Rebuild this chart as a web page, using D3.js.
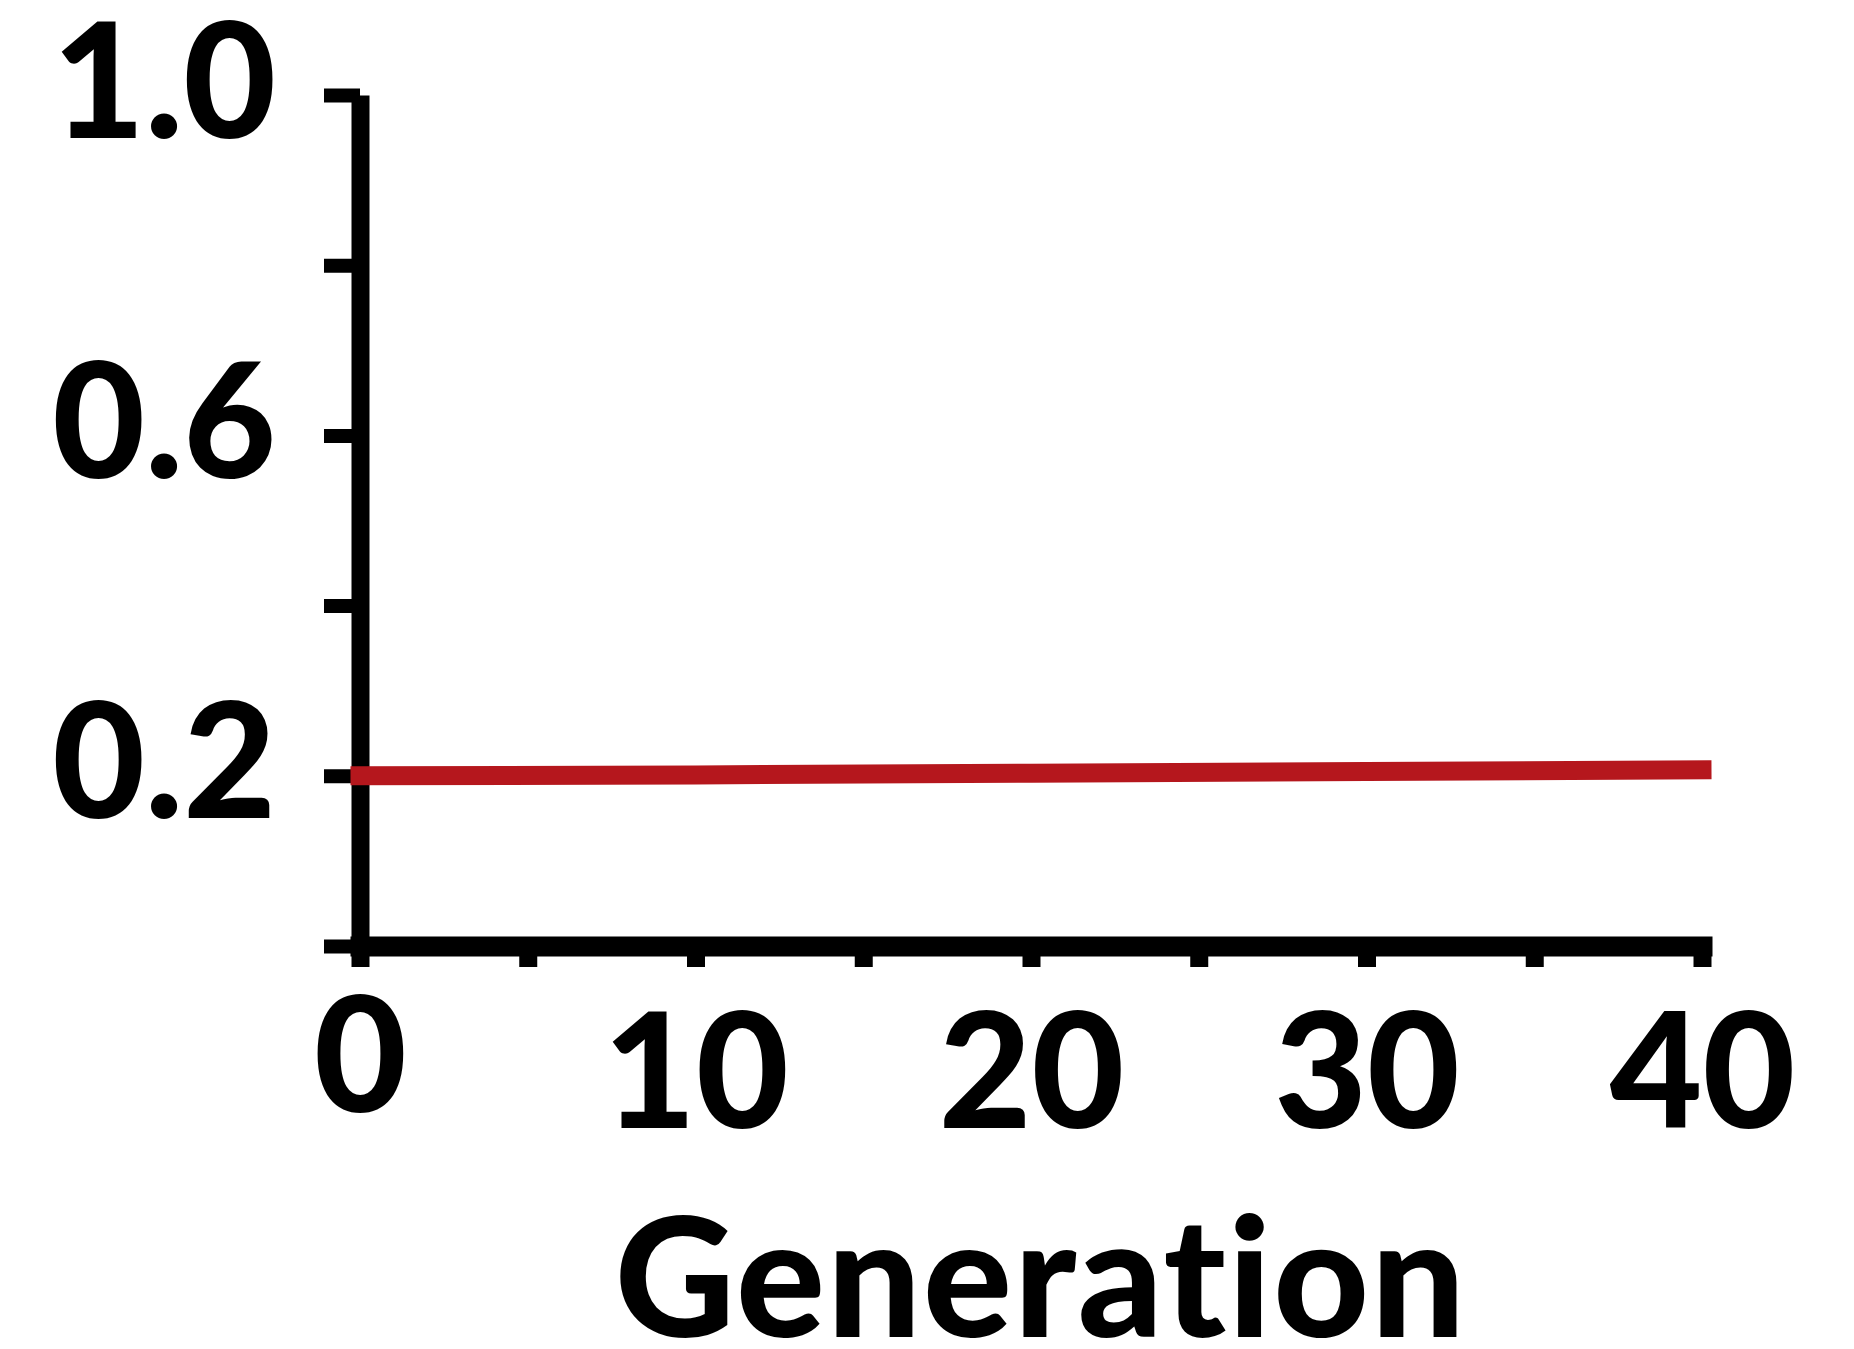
<!DOCTYPE html>
<html>
<head>
<meta charset="utf-8">
<script src="https://cdn.jsdelivr.net/npm/d3@7"></script>
<style>
  html, body { margin: 0; padding: 0; background: #ffffff; }
  svg { display: block; }
  text { font-family: "Lato", "Open Sans", "DejaVu Sans", sans-serif; font-weight: 900; fill: #000; }
</style>
</head>
<body>
<svg id="chart" width="1854" height="1349"></svg>
<script>
// ---- data ----
const generations = [0, 10, 20, 30, 40];
const frequency = [0.200, 0.201, 0.203, 0.205, 0.207];

const xTickValues = [0, 5, 10, 15, 20, 25, 30, 35, 40];
const xTickLabels = ["0", "", "10", "", "20", "", "30", "", "40"];
const yTickValues = [0, 0.2, 0.4, 0.6, 0.8, 1.0];
const yTickLabels = ["", "0.2", "", "0.6", "", "1.0"];
const xAxisTitle = "Generation";

// ---- layout ----
const svg = d3.select("#chart");

const x = d3.scaleLinear().domain([0, 40]).range([360, 1702]);
const y = d3.scaleLinear().domain([0, 1]).range([946, 95]);

// ---- y axis ----
const yAxis = d3.axisLeft(y)
  .tickValues(yTickValues)
  .tickSize(36)
  .tickSizeOuter(0)
  .tickFormat((d, i) => yTickLabels[i]);

const gy = svg.append("g").attr("transform", `translate(${x(0)},0)`).call(yAxis);
gy.attr("font-family", null).attr("font-size", null);
gy.select(".domain").attr("stroke", "#000").attr("stroke-width", 18).attr("stroke-linecap", "butt");
gy.selectAll(".tick line").attr("stroke", "#000").attr("stroke-width", 14);
gy.selectAll(".tick text")
  .attr("x", -84)
  .attr("dy", null)
  .attr("y", 42)
  .attr("text-anchor", "end")
  .style("font-size", "160px")
  .attr("fill", "#000");

// ---- x axis ----
const xAxis = d3.axisBottom(x)
  .tickValues(xTickValues)
  .tickSize(21)
  .tickSizeOuter(0)
  .tickFormat((d, i) => xTickLabels[i]);

const gx = svg.append("g").attr("transform", `translate(0,${y(0)})`).call(xAxis);
gx.attr("font-family", null).attr("font-size", null);
gx.select(".domain").attr("stroke", "#000").attr("stroke-width", 20).attr("stroke-linecap", "square");
gx.selectAll(".tick line").attr("stroke", "#000").attr("stroke-width", 18);
gx.selectAll(".tick text")
  .attr("y", 182)
  .attr("dy", null)
  .attr("text-anchor", "middle")
  .style("font-size", "160px")
  .attr("fill", "#000")
  .attr("transform", (d) => d === 0 ? "translate(0,-16)" : null);

// ---- axis title ----
svg.append("text")
  .attr("x", (x(0) + x(40)) / 2 + 10)
  .attr("y", 1337)
  .attr("text-anchor", "middle")
  .style("font-size", "166px")
  .style("letter-spacing", "2px")
  .text(xAxisTitle);

// ---- line ----
const pts = generations.map((g, i) => [g, frequency[i]]);
const line = d3.line().x(d => x(d[0])).y(d => y(d[1]));
svg.append("path")
  .datum(pts)
  .attr("d", line)
  .attr("fill", "none")
  .attr("stroke", "#b5171d")
  .attr("stroke-width", 19)
  .attr("stroke-linecap", "square");
</script>
</body>
</html>
